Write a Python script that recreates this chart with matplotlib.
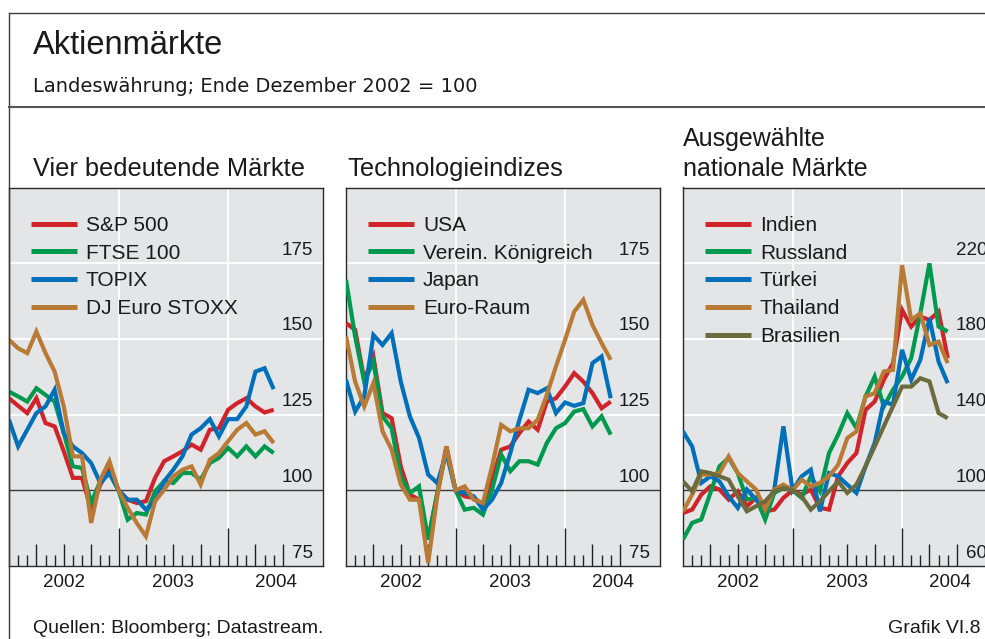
import matplotlib
matplotlib.use("Agg")
import matplotlib.pyplot as plt
from matplotlib.lines import Line2D
from matplotlib.transforms import offset_copy
import numpy as np

plt.rcParams['font.family'] = ['Liberation Sans', 'DejaVu Sans']

# ---------------- data (month-end values, Jan 2002 .. Jun 2004; Dec 2002 = 100) ----------------
months = list(range(30))

sp500 = [130.4, 127.9, 125.5, 130.4, 122.2, 121.1, 112.9, 104.1, 104.1, 93.6, 101.9, 106.8, 100,
         96.9, 95.8, 96.4, 104.1, 109.6, 111.2, 112.9, 115.1, 113.4, 120.0, 120.5, 126.6, 128.8,
         130.4, 127.7, 125.7, 126.6]
ftse100 = [132.6, 131.0, 129.3, 133.7, 131.5, 129.3, 118.9, 107.9, 107.4, 95.8, 103.0, 105.7, 100,
           90.3, 92.5, 92.0, 99.7, 103.0, 102.4, 105.7, 105.7, 103.5, 109.0, 110.7, 114.0, 111.2,
           114.5, 111.2, 114.5, 112.3]
topix = [123.3, 114.5, 120.0, 125.5, 127.7, 133.2, 118.9, 114.5, 112.3, 109.0, 102.4, 105.7, 100,
         96.9, 96.9, 93.6, 96.4, 103.0, 106.8, 111.2, 118.4, 120.5, 123.5, 117.8, 123.5, 123.5,
         127.7, 139.2, 140.3, 133.4]
djstoxx = [149.7, 146.9, 145.3, 152.4, 145.3, 139.2, 127.7, 111.2, 111.2, 89.2, 103.5, 109.6, 100,
           94.2, 89.2, 84.8, 96.4, 100.2, 104.6, 106.8, 107.9, 101.9, 110.1, 112.3, 116.2, 120.0,
           122.2, 118.4, 119.5, 115.6]

tech_usa = [155.2, 153.0, 136.5, 144.2, 125.5, 123.8, 107.9, 98.6, 96.9, 83.7, 99.0, 114.5, 100,
            98.0, 97.5, 95.3, 103.5, 113.4, 114.5, 118.9, 122.7, 120.0, 129.3, 130.4, 134.3, 138.7,
            135.9, 132.1, 127.1, 129.3]
tech_uk = [169.5, 150.8, 135.9, 142.5, 124.4, 120.5, 104.6, 99.1, 101.3, 83.7, 99.0, 113.4, 100,
           93.6, 94.2, 92.0, 100.2, 111.8, 106.3, 109.6, 109.6, 108.5, 115.6, 120.5, 122.2, 126.0,
           126.8, 121.1, 124.4, 118.4]
tech_japan = [136.5, 126.0, 131.0, 151.3, 148.0, 151.9, 135.9, 124.4, 117.3, 105.2, 102.4, 112.3, 100,
              99.1, 98.0, 93.6, 96.9, 102.4, 112.3, 123.3, 133.2, 132.1, 133.7, 125.5, 129.0, 127.9,
              128.8, 142.0, 144.2, 130.4]
tech_euro = [150.8, 135.9, 127.7, 135.4, 119.5, 113.4, 101.9, 96.9, 96.9, 76.0, 98.0, 114.5, 100,
             101.3, 96.9, 95.8, 107.9, 121.6, 119.5, 120.5, 120.5, 123.3, 131.5, 140.9, 149.7, 159.0,
             162.9, 154.6, 148.6, 143.1]

indien = [88.0, 89.8, 97.7, 102.1, 100.4, 95.1, 99.5, 91.6, 96.0, 88.9, 89.8, 96.0, 100,
          97.7, 100.4, 90.7, 89.8, 107.4, 114.4, 119.7, 142.5, 146.9, 158.4, 167.2, 195.3, 186.5,
          191.8, 190.0, 194.4, 169.8]
russland = [74.0, 82.8, 84.6, 98.6, 112.7, 117.1, 109.1, 95.1, 96.0, 84.5, 98.6, 101.2, 100,
            96.0, 107.4, 99.5, 119.7, 129.4, 140.8, 132.9, 149.6, 160.1, 144.3, 153.1, 160.1, 169.8,
            193.5, 219.9, 186.5, 183.9]
tuerkei = [131.1, 123.2, 103.9, 107.4, 104.7, 96.8, 90.7, 100.4, 95.1, 90.7, 100.4, 133.8, 100,
           107.4, 110.9, 88.9, 109.1, 107.4, 103.0, 98.6, 112.7, 125.0, 146.9, 145.2, 174.2, 158.4,
           168.9, 190.9, 168.0, 156.6]
thailand = [88.9, 97.7, 108.3, 108.3, 109.1, 117.9, 109.1, 104.7, 100.4, 89.8, 100.4, 103.0, 100,
            105.6, 102.1, 103.9, 107.4, 113.5, 127.6, 131.1, 149.6, 151.3, 162.8, 163.6, 219.0, 190.0,
            193.5, 176.8, 178.6, 167.2]
brasilien = [104.7, 99.5, 110.0, 109.1, 107.4, 105.6, 96.8, 88.9, 91.6, 94.2, 99.5, 101.2, 100,
             96.8, 89.8, 94.2, 99.5, 104.7, 98.6, 103.0, 112.7, 123.2, 133.8, 144.3, 154.8, 154.8,
             159.2, 157.5, 140.8, 138.1]

year_labels = ["2002", "2003", "2004"]
year_label_pos = [6, 18, 29.2]
panel_titles = ["Vier bedeutende Märkte", "Technologieindizes", "Ausgewählte\nnationale Märkte"]

RED, GREEN, BLUE, ORANGE, OLIVE = "#d1232a", "#009a4e", "#0070ba", "#b97a35", "#6b6b3e"

panels = [
    dict(series=[("S&P 500", sp500, RED), ("FTSE 100", ftse100, GREEN),
                 ("TOPIX", topix, BLUE), ("DJ Euro STOXX", djstoxx, ORANGE)],
         ylim=(75, 200), grid=[125, 150, 175], labels=[75, 100, 125, 150, 175]),
    dict(series=[("USA", tech_usa, RED), ("Verein. Königreich", tech_uk, GREEN),
                 ("Japan", tech_japan, BLUE), ("Euro-Raum", tech_euro, ORANGE)],
         ylim=(75, 200), grid=[125, 150, 175], labels=[75, 100, 125, 150, 175]),
    dict(series=[("Indien", indien, RED), ("Russland", russland, GREEN),
                 ("Türkei", tuerkei, BLUE), ("Thailand", thailand, ORANGE),
                 ("Brasilien", brasilien, OLIVE)],
         ylim=(60, 260), grid=[140, 180, 220], labels=[60, 100, 140, 180, 220]),
]

# ---------------- figure ----------------
W, H = 985, 639
fig = plt.figure(figsize=(W / 100, H / 100), dpi=100)
fig.patch.set_facecolor("white")

def fx(px):
    return px / W

def fy(py):
    return 1 - py / H

# outer frame
frame_col = "#3c3c3c"
fig.add_artist(Line2D([fx(8.5), 1], [fy(13), fy(13)], color=frame_col, lw=1.0))
fig.add_artist(Line2D([fx(8.5), fx(8.5)], [fy(13), 0], color=frame_col, lw=1.0))
fig.add_artist(Line2D([fx(8.5), 1], [fy(107), fy(107)], color="#555555", lw=1.5))

fig.text(fx(33), fy(54), "Aktienmärkte", fontsize=23.5, color="#1a1a1a", va="baseline")
fig.text(fx(33), fy(92), "Landeswährung; Ende Dezember 2002 = 100", fontsize=14,
         color="#1a1a1a", va="baseline", family=["DejaVu Sans"])
fig.text(fx(33), fy(633), "Quellen: Bloomberg; Datastream.", fontsize=14, color="#1a1a1a",
         va="baseline")
fig.text(fx(980), fy(633), "Grafik VI.8", fontsize=14, color="#1a1a1a", va="baseline", ha="right")

lefts = [9, 346, 683]
pw = 314
top, bottom = 187.5, 566
XMAX = 34.4
LEG_FS = 15
leg_px = LEG_FS * 100 / 72

for i, (p, left) in enumerate(zip(panels, lefts)):
    ax = fig.add_axes([fx(left), fy(bottom), pw / W, (bottom - top) / H])
    ax.set_facecolor("#e4e5e7")
    ax.set_xlim(0, XMAX)
    ax.set_ylim(*p["ylim"])
    for s in ax.spines.values():
        s.set_color("#2a2a2a")
        s.set_linewidth(1.0)

    # grid
    ax.set_yticks(p["grid"])
    ax.set_xticks([12, 24])
    ax.grid(True, color="white", lw=1.3)
    ax.tick_params(axis="both", length=0, labelleft=False, labelbottom=False)
    ax.set_axisbelow(True)
    ax.axhline(100, color="#3a3a3a", lw=1.0, zorder=1.5)

    # month ticks
    xt = ax.get_xaxis_transform()
    for m in range(1, 31):
        if m % 12 == 0:
            h = 0.0996
        elif m % 3 == 0:
            h = 0.058
        else:
            h = 0.029
        ax.plot([m, m], [0, h], transform=xt, color="#222222", lw=1.0, clip_on=False,
                solid_capstyle="butt", zorder=3)

    # series
    handles = []
    for name, vals, col in p["series"]:
        ax.plot(months, vals, color=col, lw=3.0, solid_joinstyle="miter",
                solid_capstyle="butt", zorder=4)
        handles.append(Line2D([], [], color=col, lw=3.6, solid_capstyle="butt"))
    ax.legend(handles, [s[0] for s in p["series"]], loc="upper left",
              bbox_to_anchor=(22 / pw, 1 - 28.5 / (bottom - top)), frameon=False,
              fontsize=LEG_FS, handlelength=46 / leg_px, handletextpad=9 / leg_px,
              labelspacing=0.42, borderpad=0, borderaxespad=0, labelcolor="#1a1a1a")

    # y labels inside right
    tr = offset_copy(ax.transData, fig=fig, x=0, y=8.5, units="dots")
    for v in p["labels"]:
        ax.text(XMAX - 9.7 / 9.13, v, str(v), transform=tr, ha="right", va="baseline",
                fontsize=13.5, color="#1a1a1a", zorder=5)

    # year labels
    for lab, pos in zip(year_labels, year_label_pos):
        ax.text(pos, -20.7 / (bottom - top), lab, transform=xt, ha="center", va="baseline",
                fontsize=13.5, color="#1a1a1a")

    # panel title
    if "\n" in panel_titles[i]:
        l1, l2 = panel_titles[i].split("\n")
        fig.text(fx(left), fy(146), l1, fontsize=18, color="#1a1a1a", va="baseline")
        fig.text(fx(left), fy(176), l2, fontsize=18, color="#1a1a1a", va="baseline")
    else:
        fig.text(fx(left + (24 if i == 0 else 1)), fy(176), panel_titles[i], fontsize=18.3,
                 color="#1a1a1a", va="baseline")

fig.savefig("out.png", dpi=100)
